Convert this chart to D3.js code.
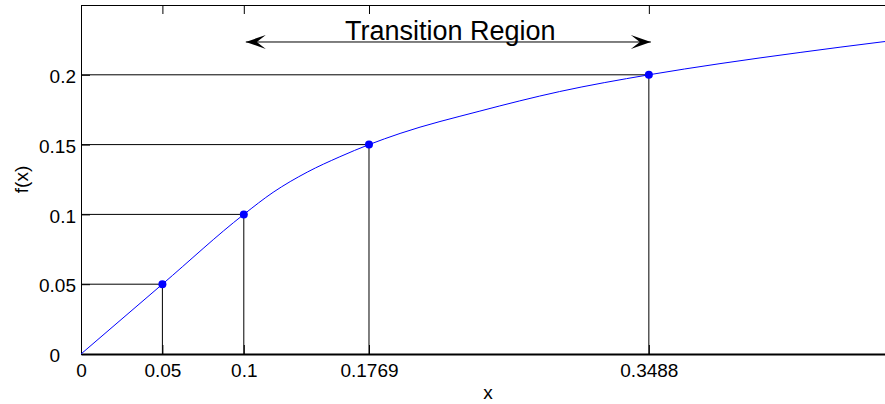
<!DOCTYPE html>
<html>
<head>
<meta charset="utf-8">
<script src="https://cdn.jsdelivr.net/npm/d3@7"></script>
<style>
  html, body { margin: 0; padding: 0; background: #fff; }
  svg { display: block; }
  text { font-family: "Liberation Sans", Arial, sans-serif; fill: #000; }
</style>
</head>
<body>
<svg id="chart" width="885" height="404"></svg>
<script>
// ---- data ----
const curveX = [0, 0.05, 0.1, 0.118, 0.139, 0.159, 0.1769, 0.196, 0.245, 0.294, 0.3488, 0.3925, 0.4417, 0.4908, 0.5];
const curveY = [0, 0.05, 0.1, 0.1158, 0.1303, 0.1413, 0.15, 0.158, 0.174, 0.188, 0.2, 0.208, 0.216, 0.2234, 0.2247];
const markerX = [0.05, 0.1, 0.1769, 0.3488];
const markerY = [0.05, 0.1, 0.15, 0.2];
const xTicks = [0, 0.05, 0.1, 0.1769, 0.3488];
const xTickLabels = ["0", "0.05", "0.1", "0.1769", "0.3488"];
const yTicks = [0, 0.05, 0.1, 0.15, 0.2];
const yTickLabels = ["0", "0.05", "0.1", "0.15", "0.2"];
const xDomain = [0, 0.5];
const yDomain = [0, 0.25];
const regionStart = 0.1, regionEnd = 0.3488, regionArrowY = 0.2235;
const regionLabel = "Transition Region";
const xLabel = "x", yLabel = "f(x)";

(function () {
  // ---- layout ----
  const svg = d3.select("#chart");
  const mLeft = 81, mRight = 895, mTop = 5, mBottom = 354;
  const x = d3.scaleLinear().domain(xDomain).range([mLeft, mRight]);
  const y = d3.scaleLinear().domain(yDomain).range([mBottom, mTop]);

  // guide lines
  const guides = svg.append("g").attr("stroke", "#000").attr("stroke-width", 1);
  markerX.forEach((mx, i) => {
    guides.append("line").attr("x1", x(0)).attr("x2", x(mx)).attr("y1", y(markerY[i])).attr("y2", y(markerY[i]));
    guides.append("line").attr("x1", x(mx)).attr("x2", x(mx)).attr("y1", y(0)).attr("y2", y(markerY[i]));
  });

  // axes
  const gx = svg.append("g").attr("transform", `translate(0,${mBottom})`)
    .call(d3.axisBottom(x).tickValues(xTicks).tickFormat((d, i) => xTickLabels[i])
      .tickSizeInner(-9).tickSizeOuter(0).tickPadding(10));
  gx.select(".domain").attr("stroke-width", 2);

  svg.append("g").attr("transform", `translate(0,${mTop})`)
    .call(d3.axisTop(x).tickValues(xTicks).tickFormat("").tickSizeInner(-9).tickSizeOuter(0));

  const gy = svg.append("g").attr("transform", `translate(${mLeft},0)`)
    .call(d3.axisLeft(y).tickValues(yTicks).tickFormat((d, i) => yTickLabels[i])
      .tickSizeInner(-9).tickSizeOuter(0).tickPadding(5));
  gy.selectAll(".tick text").attr("dy", "0.4em").filter(d => d === 0).attr("dx", -16);

  svg.selectAll(".tick text").attr("font-size", 19).attr("font-family", "Liberation Sans, Arial, sans-serif").attr("fill", "#000");
  svg.selectAll(".domain, .tick line").attr("stroke", "#000");

  // curve
  const pts = curveX.map((d, i) => [d, curveY[i]]);
  svg.append("path").datum(pts)
    .attr("fill", "none").attr("stroke", "#0000ff").attr("stroke-width", 1)
    .attr("d", d3.line().x(d => x(d[0])).y(d => y(d[1])).curve(d3.curveMonotoneX));

  // markers
  svg.append("g").selectAll("circle").data(markerX).join("circle")
    .attr("cx", d => x(d)).attr("cy", (d, i) => y(markerY[i])).attr("r", 4)
    .attr("fill", "#0000ff");

  // transition region arrow
  const ay = y(regionArrowY), x1 = x(regionStart) + 2, x2 = x(regionEnd) + 2;
  svg.append("line").attr("x1", x1).attr("x2", x2).attr("y1", ay).attr("y2", ay)
    .attr("stroke", "#000").attr("stroke-width", 1);
  const head = (tx, dir) => `M${tx},${ay} L${tx + dir * 20},${ay - 7} L${tx + dir * 11},${ay} L${tx + dir * 20},${ay + 7} Z`;
  svg.append("path").attr("d", head(x1, 1)).attr("fill", "#000");
  svg.append("path").attr("d", head(x2, -1)).attr("fill", "#000");
  svg.append("text").attr("x", (x1 + x2) / 2 + 2).attr("y", 40)
    .attr("text-anchor", "middle").attr("font-size", 27).text(regionLabel);

  // axis labels
  svg.append("text").attr("x", (mLeft + mRight) / 2).attr("y", 399)
    .attr("text-anchor", "middle").attr("font-size", 19).text(xLabel);
  svg.append("text").attr("transform", `translate(28,${(mTop + mBottom) / 2}) rotate(-90)`)
    .attr("text-anchor", "middle").attr("font-size", 19).text(yLabel);
})();
</script>
</body>
</html>
